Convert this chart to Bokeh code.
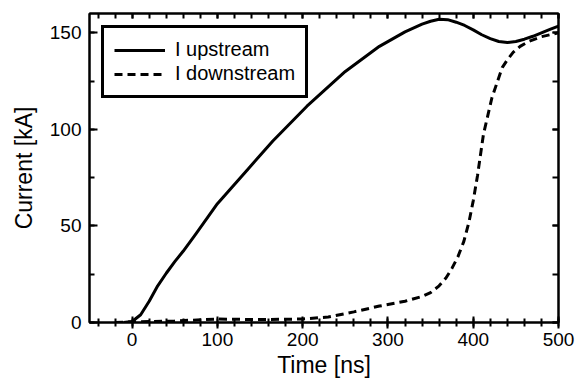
from bokeh.plotting import figure
from bokeh.models import (LinearAxis, Range1d, Legend, LegendItem,
                          SingleIntervalTicker, CustomJSTickFormatter)
from bokeh.embed import file_html
from bokeh.resources import INLINE

# Data
t_up = [-10, 0, 10, 20, 30, 40, 50, 60, 75, 100, 135, 165, 205, 250, 290, 320, 340, 350,
        360, 370, 380, 390, 400, 410, 420, 430, 440, 450, 460, 470, 480, 490, 500]
i_up = [0, 0.5, 4, 11, 19, 25.5, 31.5, 37, 46, 61.5, 79, 94, 112, 130, 143, 150.5, 154.5, 156,
        157, 156.8, 155.5, 153.8, 151.5, 149, 147, 145.5, 145, 145.5, 146.7, 148.2, 150, 151.8, 153.5]

t_down = [-20, 0, 50, 100, 150, 200, 230, 260, 290, 320, 340, 350, 360, 368, 375, 382, 389,
          395, 400, 405, 412, 422, 434, 440, 447, 455, 465, 480, 500]
i_down = [0, 0.3, 0.8, 1.8, 1.5, 1.8, 2.8, 5.5, 8.5, 11, 13.5, 15.5, 19, 23, 28, 34, 42,
          52, 63, 76, 97.5, 116.5, 132, 136, 140, 143, 145.5, 148, 150]

x_label = "Time [ns]"
y_label = "Current [kA]"
labels = ["I upstream", "I downstream"]

FONT = "Liberation Sans"

p = figure(width=576, height=383, x_range=Range1d(-50, 500), y_range=Range1d(0, 160),
           output_backend="svg", toolbar_location=None,
           min_border_left=89, min_border_right=18, min_border_top=13, min_border_bottom=61)
p.grid.visible = False
p.outline_line_color = "black"
p.outline_line_width = 2
p.background_fill_color = "white"
p.border_fill_color = "white"

r1 = p.line(t_up, i_up, line_color="black", line_width=3, line_join="round")
r2 = p.line(t_down, i_down, line_color="black", line_width=3, line_dash="8 5")

xa = p.xaxis[0]
xa.ticker = SingleIntervalTicker(interval=100, num_minor_ticks=5)
xa.axis_label = x_label
xa.axis_label_standoff = 3
xa.major_label_standoff = 4
xa.major_tick_in = 6
xa.major_tick_out = 6
xa.minor_tick_in = 4
xa.minor_tick_out = 4

ya = p.yaxis[0]
ya.ticker = SingleIntervalTicker(interval=50, num_minor_ticks=2)
ya.axis_label = y_label
ya.axis_label_standoff = 10
ya.major_label_standoff = 8
ya.major_tick_in = 8
ya.major_tick_out = 0
ya.minor_tick_in = 5
ya.minor_tick_out = 0

for ax in (xa, ya):
    ax.axis_label_text_font = FONT
    ax.axis_label_text_font_style = "normal"
    ax.axis_label_text_font_size = "23px"
    ax.axis_label_text_color = "black"
    ax.major_label_text_font = FONT
    ax.major_label_text_font_size = "19px"
    ax.major_label_text_color = "black"
    ax.axis_line_width = 2
    ax.axis_line_color = "black"
    ax.major_tick_line_width = 2
    ax.major_tick_line_color = "black"
    ax.minor_tick_line_width = 2
    ax.minor_tick_line_color = "black"

blank = CustomJSTickFormatter(code="return '';")

top = LinearAxis(ticker=SingleIntervalTicker(interval=100, num_minor_ticks=5), formatter=blank)
top.major_label_standoff = 0
top.major_tick_in = 5
top.major_tick_out = 0
top.minor_tick_in = 5
top.minor_tick_out = 0
p.add_layout(top, "above")

right = LinearAxis(ticker=SingleIntervalTicker(interval=50, num_minor_ticks=2), formatter=blank)
right.major_label_standoff = 0
right.major_tick_in = 6
right.major_tick_out = 0
right.minor_tick_in = 6
right.minor_tick_out = 0
p.add_layout(right, "right")

for ax in (top, right):
    ax.axis_line_width = 2
    ax.axis_line_color = "black"
    ax.major_tick_line_width = 2
    ax.major_tick_line_color = "black"
    ax.minor_tick_line_width = 2
    ax.minor_tick_line_color = "black"

legend = Legend(items=[LegendItem(label=labels[0], renderers=[r1]),
                       LegendItem(label=labels[1], renderers=[r2])],
                location="top_left")
legend.border_line_color = "black"
legend.border_line_alpha = 1
legend.border_line_width = 3
legend.label_text_font = FONT
legend.label_text_font_size = "20px"
legend.label_text_color = "black"
legend.glyph_width = 51
legend.glyph_height = 20
legend.label_height = 20
legend.label_standoff = 10
legend.padding = 10
legend.spacing = 1
legend.margin = 12
legend.background_fill_alpha = 1
p.add_layout(legend)

open("out.html", "w").write(file_html(p, INLINE))
